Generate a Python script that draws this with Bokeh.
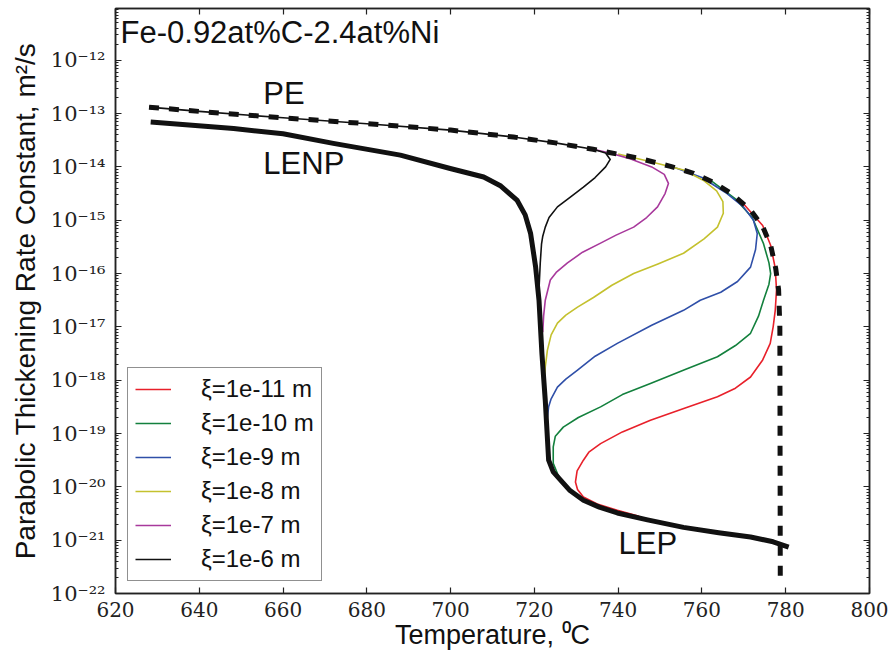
from bokeh.plotting import figure
from bokeh.models import (LinearAxis, LogAxis, FixedTicker, SingleIntervalTicker,
                          CustomJSTickFormatter, Legend, LegendItem, Range1d)
from bokeh.core.properties import value
from bokeh.embed import file_html
from bokeh.resources import INLINE

# ---------------- data (temperature in degC, log10 of rate constant in m^2/s) -------------
# paraequilibrium (PE) boundary, dashed
pe_T = [628, 640, 660, 680, 700, 715, 725, 734, 745, 752.5, 758, 762.7, 767, 771.6,
        774.5, 776.4, 777.6, 778.3, 778.6, 778.7]
pe_logK = [-12.88, -12.96, -13.08, -13.19, -13.31, -13.44, -13.55, -13.67, -13.84, -13.99,
           -14.12, -14.29, -14.50, -14.81, -15.12, -15.47, -15.90, -16.30, -17.00, -21.70]

# LENP / LEP curve, thick
le_T = [628.4, 648.2, 660, 672, 688, 699.9, 707.9, 712, 715.9, 717.8, 719.1, 720.3, 721.1,
        721.8, 722.6, 723.4, 724.5, 726.2, 728.5, 731.7, 735.5, 739.8, 747, 755.6, 764,
        771.6, 777, 780.7]
le_logK = [-13.16, -13.28, -13.38, -13.56, -13.78, -14.03, -14.19, -14.36, -14.63, -14.90,
           -15.25, -15.88, -16.50, -17.50, -18.38, -19.50, -19.72, -19.87, -20.07, -20.25,
           -20.38, -20.49, -20.62, -20.76, -20.86, -20.94, -21.03, -21.13]

# interface thickness curves
xi11_T = [770, 774.5, 776.4, 777.5, 777.8, 777.5, 777, 776.3, 774.5, 771.6, 768, 763.7, 756,
          747.7, 741, 735.8, 733, 731.7, 730.2, 729.8, 730.3, 731.7, 735, 739.8, 745]
xi11_logK = [-14.70, -15.10, -15.47, -15.90, -16.31, -16.69, -17.00, -17.31, -17.62, -17.94,
             -18.15, -18.31, -18.52, -18.75, -18.97, -19.19, -19.35, -19.50, -19.70, -19.91,
             -20.05, -20.19, -20.32, -20.44, -20.55]

xi10_T = [762, 768, 772, 774.7, 776.0, 776.4, 776, 774.7, 773.5, 771.6, 768, 763.7, 756,
          747.7, 741, 735.8, 730.5, 726.9, 725, 724.5, 724.5, 725.5, 726.5]
xi10_logK = [-14.25, -14.60, -14.95, -15.44, -15.80, -16.00, -16.20, -16.50, -16.80, -17.12,
             -17.35, -17.56, -17.80, -18.06, -18.27, -18.50, -18.70, -18.88, -19.05, -19.25,
             -19.56, -19.75, -19.90]

xi9_T = [752, 760, 766, 769.9, 772.3, 773.2, 772.8, 771.6, 768.5, 764.5, 759.6, 755.6, 748,
         739.8, 734.5, 730.3, 727.5, 725.5, 724, 723.4, 723.1]
xi9_logK = [-13.97, -14.20, -14.50, -14.75, -15.00, -15.25, -15.55, -15.88, -16.15, -16.35,
            -16.50, -16.69, -16.97, -17.31, -17.55, -17.81, -17.98, -18.13, -18.35, -18.50,
            -18.70]

xi8_T = [740, 748, 755.6, 760.3, 763.5, 765, 765.1, 763.7, 760.5, 755.6, 749.5, 743.7,
         738.5, 734.1, 730.3, 727.5, 725.5, 724, 723.1, 722.6, 722.4]
xi8_logK = [-13.76, -13.91, -14.06, -14.25, -14.45, -14.65, -14.87, -15.13, -15.35, -15.62,
            -15.82, -16.00, -16.22, -16.45, -16.63, -16.78, -16.93, -17.15, -17.44, -17.75,
            -17.95]

xi7_T = [733, 738, 743, 748, 751, 752, 751.2, 749.4, 746.8, 743.7, 739.5, 735.8, 731.5,
         727.9, 725.2, 723.8, 722.6, 722.2, 722.0]
xi7_logK = [-13.65, -13.74, -13.85, -14.00, -14.14, -14.31, -14.50, -14.75, -14.95, -15.13,
            -15.28, -15.43, -15.60, -15.80, -15.98, -16.12, -16.50, -16.80, -17.10]

xi6_T = [628, 640, 660, 680, 700, 715, 725, 734, 737, 738.1, 737, 734.5, 731.7, 728.5,
         725.5, 723.5, 722.6, 722.0, 721.7, 721.4, 721.1, 720.9]
xi6_logK = [-12.88, -12.96, -13.08, -13.19, -13.31, -13.44, -13.55, -13.67, -13.74, -13.86,
            -14.00, -14.20, -14.38, -14.57, -14.75, -14.95, -15.13, -15.30, -15.45, -15.80,
            -16.30, -16.60]

series_labels = ["ξ=1e-11 m", "ξ=1e-10 m", "ξ=1e-9 m", "ξ=1e-8 m", "ξ=1e-7 m", "ξ=1e-6 m"]
series_colors = ["#e8202a", "#13803d", "#2f4fa8", "#c4c12e", "#a8399c", "#111111"]
series_T = [xi11_T, xi10_T, xi9_T, xi8_T, xi7_T, xi6_T]
series_logK = [xi11_logK, xi10_logK, xi9_logK, xi8_logK, xi7_logK, xi6_logK]

y_major = [10.0 ** e for e in range(-22, -11)]
y_minor = [k * 10.0 ** e for e in range(-22, -11) for k in range(2, 10)]

title_text = "Fe-0.92at%C-2.4at%Ni"
curve_names = ["PE", "LENP", "LEP"]


def tolin(logs):
    return [10.0 ** v for v in logs]


# ---------------- figure -------------
SANS = "Liberation Sans"
SERIF = "DejaVu Serif"
AX = "#222222"

p = figure(width=890, height=656, output_backend="svg", toolbar_location=None,
           y_axis_type="log", x_range=Range1d(620, 800),
           y_range=Range1d(1e-22, 10 ** -11.03),
           min_border_left=115, min_border_right=21, min_border_top=8, min_border_bottom=63,
           x_axis_label="Temperature, ⁰C",
           y_axis_label="Parabolic Thickening Rate Constant, m²/s")
p.xgrid.visible = False
p.ygrid.visible = False
p.outline_line_color = AX
p.outline_line_width = 1.5
p.background_fill_color = "white"
p.border_fill_color = "white"

sup_code = """
const sup = {"0":"\u2070","1":"\u00b9","2":"\u00b2","3":"\u00b3","4":"\u2074","5":"\u2075",
             "6":"\u2076","7":"\u2077","8":"\u2078","9":"\u2079","-":"\u207b"};
const e = Math.round(Math.log10(tick));
return "10" + String(e).split("").map(c => sup[c]).join("");
"""


def style_axis(ax):
    ax.axis_line_color = AX
    ax.axis_line_width = 1.5
    ax.major_tick_line_color = AX
    ax.minor_tick_line_color = AX
    ax.major_tick_line_width = 1.2
    ax.minor_tick_line_width = 1.0
    ax.major_tick_in = 6
    ax.major_tick_out = 0
    ax.minor_tick_in = 3
    ax.minor_tick_out = 0


xa = p.xaxis[0]
xa.ticker = SingleIntervalTicker(interval=20, num_minor_ticks=0)
xa.major_label_text_font = SERIF
xa.major_label_text_font_size = "20px"
xa.major_label_text_color = "#222222"
xa.major_label_standoff = 8
xa.axis_label_text_font = SANS
xa.axis_label_text_font_size = "27px"
xa.axis_label_text_font_style = "normal"
xa.axis_label_text_color = "#111111"
xa.axis_label_standoff = 0
style_axis(xa)

ya = p.yaxis[0]
ya.ticker = FixedTicker(ticks=y_major, minor_ticks=y_minor)
ya.formatter = CustomJSTickFormatter(code=sup_code)
ya.major_label_text_font = SERIF
ya.major_label_text_font_size = "21px"
ya.major_label_text_color = "#222222"
ya.major_label_standoff = 10
ya.axis_label_text_font = SANS
ya.axis_label_text_font_size = "28px"
ya.axis_label_text_font_style = "normal"
ya.axis_label_text_color = "#111111"
ya.axis_label_standoff = 7
style_axis(ya)

top = LinearAxis(ticker=SingleIntervalTicker(interval=20, num_minor_ticks=0),
                 formatter=CustomJSTickFormatter(code="return '';"), major_label_standoff=0,
                 major_label_text_font_size="0px")
style_axis(top)
p.add_layout(top, "above")

right = LogAxis(ticker=FixedTicker(ticks=y_major, minor_ticks=y_minor),
                formatter=CustomJSTickFormatter(code="return '';"), major_label_standoff=0,
                major_label_text_font_size="0px")
style_axis(right)
p.add_layout(right, "right")

# ---------------- glyphs -------------
items = []
for T, lk, lab, col in zip(series_T, series_logK, series_labels, series_colors):
    r = p.line(T, tolin(lk), line_color=col, line_width=1.6, line_join="round")
    items.append(LegendItem(label=lab, renderers=[r]))

p.line(le_T, tolin(le_logK), line_color="#111111", line_width=5, line_join="round")
p.line(pe_T, tolin(pe_logK), line_color="#111111", line_width=5, line_dash="10 10")

# annotations
p.text(x=[655.3, 655.3, 740.1], y=[10 ** -12.62, 10 ** -13.93, 10 ** -21.07],
       text=curve_names, text_font=value(SANS), text_font_size="31px",
       text_baseline="middle", text_align="left", text_color="#111111")
p.text(x=[621.2], y=[10 ** -11.475], text=[title_text], text_font=value(SANS),
       text_font_size="31px", text_baseline="middle", text_align="left",
       text_color="#111111")

legend = Legend(items=items, location=(12, 12))
legend.label_text_font = SANS
legend.label_text_font_size = "24px"
legend.label_text_color = "#111111"
legend.glyph_width = 36
legend.glyph_height = 26
legend.label_height = 26
legend.label_standoff = 30
legend.spacing = 6
legend.padding = 7
legend.margin = 0
legend.border_line_color = AX
legend.border_line_width = 1.5
legend.background_fill_alpha = 1.0
p.add_layout(legend)

open("out.html", "w").write(file_html(p, INLINE))
